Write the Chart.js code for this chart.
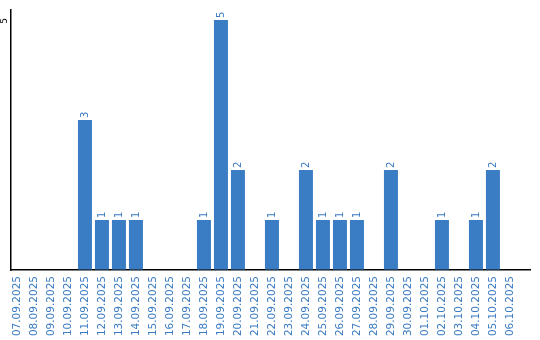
<!DOCTYPE html>
<html>
<head>
<meta charset="utf-8">
<script src="https://cdn.jsdelivr.net/npm/chart.js@4/dist/chart.umd.min.js"></script>
<style>
  html, body { margin: 0; padding: 0; background: #fff; }
  canvas { display: block; }
</style>
</head>
<body>
<canvas id="chart" width="540" height="340"></canvas>
<script>
// Data
const dates = [
    '07.09.2025', '08.09.2025', '09.09.2025', '10.09.2025', '11.09.2025',
    '12.09.2025', '13.09.2025', '14.09.2025', '15.09.2025', '16.09.2025',
    '17.09.2025', '18.09.2025', '19.09.2025', '20.09.2025', '21.09.2025',
    '22.09.2025', '23.09.2025', '24.09.2025', '25.09.2025', '26.09.2025',
    '27.09.2025', '28.09.2025', '29.09.2025', '30.09.2025', '01.10.2025',
    '02.10.2025', '03.10.2025', '04.10.2025', '05.10.2025', '06.10.2025'
];
const counts = [0, 0, 0, 0, 3, 1, 1, 1, 0, 0, 0, 1, 5, 2, 0, 1, 0, 2, 1, 1, 1, 0, 2, 0, 0, 1, 0, 1, 2, 0];
const yTicks = [5];

const barColor = '#3b7dc4';
const textColor = '#3a7bc2';

// rotated y tick labels and value labels over the bars
const rotatedLabels = {
    id: 'rotatedLabels',
    afterDatasetsDraw(chart) {
        const ctx = chart.ctx;
        const yScale = chart.scales.y;
        ctx.save();

        // y ticks
        ctx.fillStyle = '#000';
        ctx.font = '9px "DejaVu Sans"';
        yTicks.forEach(v => {
            const y = yScale.getPixelForValue(v);
            ctx.save();
            ctx.translate(5, y + 1);
            ctx.rotate(-Math.PI / 2);
            ctx.textAlign = 'center';
            ctx.textBaseline = 'middle';
            ctx.fillText(String(v), 0, 0);
            ctx.restore();
        });

        // value labels
        ctx.fillStyle = textColor;
        ctx.font = '10px "DejaVu Sans"';
        const meta = chart.getDatasetMeta(0);
        meta.data.forEach((bar, i) => {
            const v = counts[i];
            if (!v) return;
            ctx.save();
            ctx.translate(bar.x, bar.y - 2);
            ctx.rotate(-Math.PI / 2);
            ctx.textAlign = 'left';
            ctx.textBaseline = 'middle';
            ctx.fillText(String(v), 0, 0);
            ctx.restore();
        });
        ctx.restore();
    }
};

new Chart(document.getElementById('chart'), {
    type: 'bar',
    data: {
        datasets: [{
            data: counts.map((v, i) => ({ x: i, y: v })),
            backgroundColor: barColor,
            borderWidth: 0,
            categoryPercentage: 1,
            barPercentage: 14 / 17
        }]
    },
    options: {
        responsive: false,
        animation: false,
        devicePixelRatio: 1,
        layout: {
            padding: { top: 10, right: 10, left: 0, bottom: 0 }
        },
        plugins: {
            legend: { display: false },
            tooltip: { enabled: false }
        },
        scales: {
            x: {
                type: 'linear',
                offset: false,
                min: -0.38,
                max: 30.18,
                afterBuildTicks: function(scale) {
                    scale.ticks = dates.map((d, i) => ({ value: i }));
                },
                afterFit: function(scale) {
                    scale.height = 70;
                    scale.paddingLeft = 0;
                    scale.paddingRight = 0;
                },
                grid: { display: false, drawTicks: false },
                border: { color: '#000', width: 1.5 },
                ticks: {
                    autoSkip: false,
                    minRotation: 90,
                    maxRotation: 90,
                    padding: 6,
                    color: textColor,
                    font: { family: '"DejaVu Sans"', size: 10.5 },
                    callback: function(value) {
                        return dates[value] || '';
                    }
                }
            },
            y: {
                min: 0,
                max: 5.2,
                afterFit: function(scale) { scale.width = 10.5; },
                grid: {
                    drawTicks: false,
                    color: function(c) { return c.tick && c.tick.value === 5 ? '#c8c8c8' : 'rgba(0,0,0,0)'; },
                    lineWidth: 1
                },
                border: { color: '#000', width: 1.5 },
                ticks: {
                    stepSize: 5,
                    display: false
                }
            }
        }
    },
    plugins: [rotatedLabels]
});
</script>
</body>
</html>
